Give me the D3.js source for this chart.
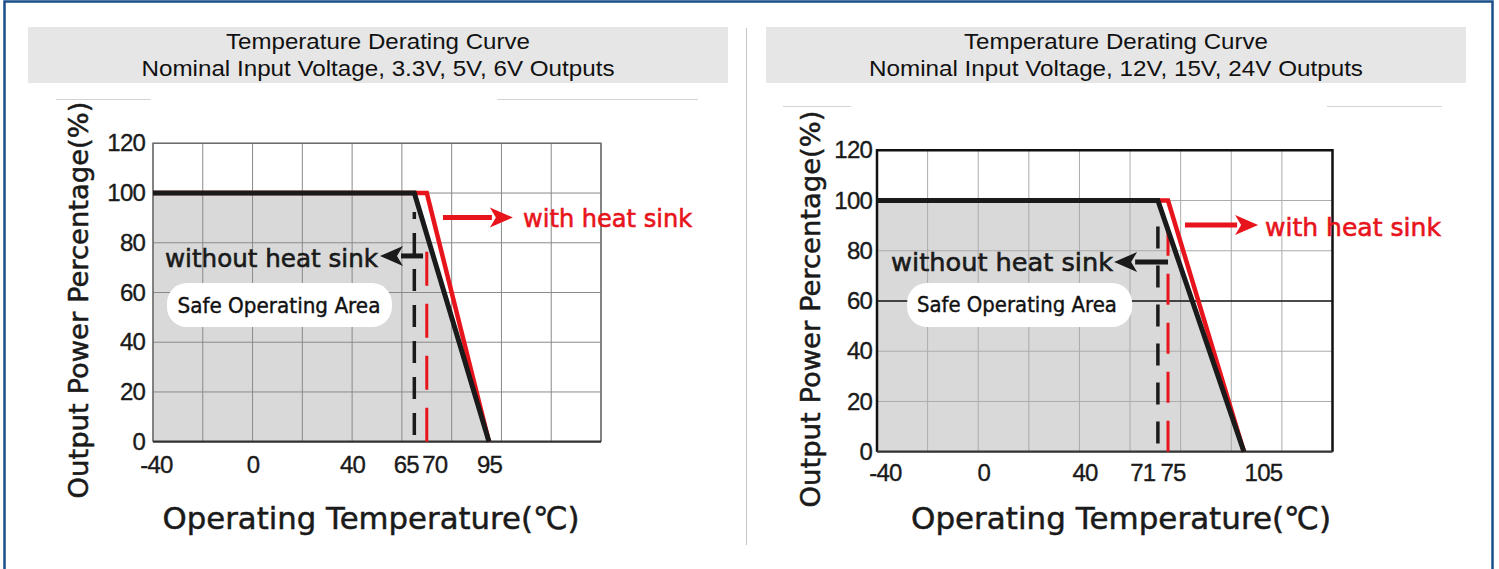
<!DOCTYPE html>
<html>
<head>
<meta charset="utf-8">
<title>Temperature Derating Curve</title>
<script src="https://cdn.jsdelivr.net/npm/d3@7"></script>
<style>
  body { margin: 0; background: #fff; }
  svg { display: block; }
</style>
</head>
<body>
<svg id="chart" width="1499" height="569"></svg>
<script>
// values
var powerTicks = [0, 20, 40, 60, 80, 100, 120];
var gridTemps = [-40, -20, 0, 20, 40, 60, 80, 100, 120, 140];
var curvePower = [100, 100, 0];

var leftTitle = ["Temperature Derating Curve", "Nominal Input Voltage, 3.3V, 5V, 6V Outputs"];
var leftTempTicks = [-40, 0, 40, 65, 70, 95];
var leftNoSinkTemp = [-40, 65, 95];
var leftSinkTemp = [-40, 70, 95];

var rightTitle = ["Temperature Derating Curve", "Nominal Input Voltage, 12V, 15V, 24V Outputs"];
var rightTempTicks = [-40, 0, 40, 71, 75, 105];
var rightNoSinkTemp = [-40, 71, 105];
var rightSinkTemp = [-40, 75, 105];

var yTitle = "Output Power Percentage(%)";
var xTitle = "Operating Temperature(\u2103)";

var RED = "#e8141c";
var INK = "#1a1a1a";
var svg = d3.select("#chart");

// outer frame + divider + scan leftovers
svg.append("rect").attr("x", 4.5).attr("y", 1.5).attr("width", 1488).attr("height", 620)
    .attr("fill", "none").attr("stroke", "#1b4f8a").attr("stroke-width", 2.5);
svg.append("line").attr("x1", 746.5).attr("x2", 746.5).attr("y1", 28).attr("y2", 545)
    .attr("stroke", "#c4c4c4").attr("stroke-width", 1);
[[56, 151, 99.5], [497, 698, 99.5], [783, 851, 106.5], [1327, 1442, 106.5]].forEach(function(s) {
    svg.append("line").attr("x1", s[0]).attr("x2", s[1]).attr("y1", s[2]).attr("y2", s[2])
        .attr("stroke", "#d4d4d4").attr("stroke-width", 1);
});

function arrow(g, xa, xb, yy, color) {
    // xa = tail, xb = tip (pixels)
    var dir = xb > xa ? 1 : -1, len = 23, half = 10;
    g.append("line").attr("x1", xa).attr("x2", xb - dir * (len - 2)).attr("y1", yy).attr("y2", yy)
        .attr("stroke", color).attr("stroke-width", 5);
    g.append("path")
        .attr("d", "M" + xb + "," + yy + "L" + (xb - dir * len) + "," + (yy - half) +
                   "L" + (xb - dir * (len - 6)) + "," + yy + "L" + (xb - dir * len) + "," + (yy + half) + "Z")
        .attr("fill", color);
}

// heavier look of the scanned lettering
function ink(sel, color, w) {
    return sel.attr("fill", color).attr("stroke", color).attr("stroke-width", w);
}

function drawChart(c) {
    var g = svg.append("g");

    // header band
    g.append("rect").attr("x", c.headX).attr("y", 27).attr("width", 700).attr("height", 56).attr("fill", "#e6e6e6");
    c.title.forEach(function(t, i) {
        g.append("text").attr("x", c.headX + 350).attr("y", i ? 76 : 48.5)
            .attr("text-anchor", "middle").attr("font-family", "'Liberation Sans', Arial, sans-serif")
            .attr("font-size", 22).attr("textLength", c.titleLen[i]).attr("lengthAdjust", "spacingAndGlyphs")
            .attr("fill", "#111").text(t);
    });

    var x = d3.scaleLinear().domain([-40, 140]).range([c.x0, c.x1]);
    var y = d3.scaleLinear().domain([0, 120]).range([c.y1, c.y0]);

    var noSink = c.noSink.map(function(t, i) { return [t, curvePower[i]]; });
    var sink = c.sink.map(function(t, i) { return [t, curvePower[i]]; });

    // safe operating area
    g.append("path").datum(noSink)
        .attr("d", d3.area().x(function(d) { return x(d[0]); }).y0(y(0)).y1(function(d) { return y(d[1]); }))
        .attr("fill", "#d9d9d9");

    // grid
    g.selectAll(".vg").data(gridTemps).enter().append("line")
        .attr("x1", x).attr("x2", x).attr("y1", c.y0).attr("y2", c.y1)
        .attr("stroke", c.gridColor).attr("stroke-width", 1);
    g.selectAll(".hg").data(powerTicks).enter().append("line")
        .attr("x1", c.x0).attr("x2", c.x1).attr("y1", y).attr("y2", y)
        .attr("stroke", function(d) { return d === c.darkRow ? "#111" : c.gridColor; })
        .attr("stroke-width", function(d) { return d === c.darkRow ? 1.3 : 1; });

    // box
    g.append("path").attr("d", "M" + c.x0 + "," + c.y1 + "V" + c.y0 + "H" + c.x1 + "V" + c.y1)
        .attr("fill", "none").attr("stroke", c.boxColor).attr("stroke-width", c.boxWidth);
    g.append("line").attr("x1", c.x0).attr("x2", c.x1).attr("y1", c.y1).attr("y2", c.y1)
        .attr("stroke", "#333").attr("stroke-width", 2.2);

    // pill label
    var p = c.pill;
    g.append("rect").attr("x", x(p.t0)).attr("y", y(p.v0)).attr("width", x(p.t1) - x(p.t0))
        .attr("height", y(p.v1) - y(p.v0)).attr("rx", 20).attr("fill", "#fff");
    ink(g.append("text").attr("x", x(p.tc)).attr("y", y(p.vb)).attr("text-anchor", "middle")
        .attr("font-family", "'DejaVu Sans', sans-serif").attr("font-size", 21)
        .attr("textLength", p.len).attr("lengthAdjust", "spacingAndGlyphs")
        .text("Safe Operating Area"), "#111", 0.4);

    // guide dashes at the knee temperatures
    g.append("line").attr("x1", x(c.noSink[1])).attr("x2", x(c.noSink[1]))
        .attr("y1", y(c.blackDash[0])).attr("y2", y(c.blackDash[1]))
        .attr("stroke", INK).attr("stroke-width", 3.5).attr("stroke-dasharray", c.blackDash[2]);
    g.append("line").attr("x1", x(c.sink[1])).attr("x2", x(c.sink[1]))
        .attr("y1", y(c.redDash[0])).attr("y2", y(c.redDash[1]))
        .attr("stroke", RED).attr("stroke-width", 3).attr("stroke-dasharray", c.redDash[2]);

    // derating curves
    var line = d3.line().x(function(d) { return x(d[0]); }).y(function(d) { return y(d[1]); });
    g.append("path").datum(sink).attr("d", line).attr("fill", "none")
        .attr("stroke", RED).attr("stroke-width", 4.5).attr("stroke-linejoin", "miter");
    g.append("path").datum(noSink).attr("d", line).attr("fill", "none")
        .attr("stroke", INK).attr("stroke-width", 5).attr("stroke-linejoin", "miter");

    // axes (labels only); plain hyphen minus like the sheet
    var fmt = function(d) { return String(d); };
    var ya = g.append("g").attr("transform", "translate(" + c.x0 + ",0)")
        .call(d3.axisLeft(y).tickValues(powerTicks).tickFormat(fmt).tickSize(0).tickPadding(c.yPad));
    var xa = g.append("g").attr("transform", "translate(0," + c.y1 + ")")
        .call(d3.axisBottom(x).tickValues(c.ticks).tickFormat(fmt).tickSize(0).tickPadding(c.xPad));
    [ya, xa].forEach(function(a) {
        a.select(".domain").remove();
        ink(a.selectAll("text").attr("font-family", "'Liberation Sans', Arial, sans-serif")
            .attr("font-size", 24).attr("letter-spacing", -0.8), INK, 0.35);
    });
    xa.selectAll("text")
        .attr("text-anchor", function(d) { return (c.nudge[d] || ["middle"])[0]; })
        .attr("dx", function(d) { return (c.nudge[d] || [null, c.xShift])[1]; });

    // annotations
    var r = c.red, b = c.black;
    arrow(g, x(r.t0), x(r.t1), y(r.v), RED);
    arrow(g, x(b.t0), x(b.t1), y(b.v), INK);
    ink(g.append("text").attr("x", x(r.tt)).attr("y", y(r.vb))
        .attr("font-family", "'DejaVu Sans', sans-serif").attr("font-size", 25)
        .attr("textLength", r.len).attr("lengthAdjust", "spacingAndGlyphs")
        .text("with heat sink"), RED, 0.6);
    ink(g.append("text").attr("x", x(b.tt)).attr("y", y(b.vb)).attr("text-anchor", "end")
        .attr("font-family", "'DejaVu Sans', sans-serif").attr("font-size", 25)
        .attr("textLength", b.len).attr("lengthAdjust", "spacingAndGlyphs")
        .text("without heat sink"), INK, 0.6);

    // axis titles
    ink(g.append("text").attr("transform", "translate(" + c.yTitleX + "," + c.yTitleY + ") rotate(-90)")
        .attr("text-anchor", "middle").attr("dominant-baseline", "central")
        .attr("font-family", "'DejaVu Sans', sans-serif").attr("font-size", 26)
        .attr("textLength", 397).attr("lengthAdjust", "spacingAndGlyphs")
        .text(yTitle), INK, 0.5);
    ink(g.append("text").attr("x", c.xTitleX).attr("y", 529)
        .attr("text-anchor", "middle")
        .attr("font-family", "'DejaVu Sans', sans-serif").attr("font-size", 31)
        .attr("textLength", c.xTitleLen).attr("lengthAdjust", "spacingAndGlyphs")
        .text(xTitle), INK, 0.5);
}

drawChart({
    title: leftTitle, titleLen: [304, 473], headX: 28,
    ticks: leftTempTicks, noSink: leftNoSinkTemp, sink: leftSinkTemp,
    x0: 153, x1: 601, y0: 143.3, y1: 441.7,
    gridColor: "#8a8a8a", boxColor: "#6e6e6e", boxWidth: 1.5, darkRow: null,
    yPad: 8, xPad: 14, xShift: 0,
    nudge: { "-40": ["middle", 3], 65: ["end", 4], 70: ["start", -5] },
    blackDash: [2.7, 92.4, "22,14"], redDash: [0, 79.8, "34,18"],
    pill: { t0: -34.4, t1: 56.0, v0: 63.8, v1: 46.1, tc: 10.6, vb: 51.7, len: 203 },
    red: { t0: 76.5, t1: 104.6, v: 90.2, tt: 108.7, vb: 86.4, len: 169 },
    black: { t0: 68.5, t1: 51.2, v: 74.7, tt: 50.4, vb: 70.4, len: 213 },
    yTitleX: 79, yTitleY: 300, xTitleX: 371, xTitleLen: 417
});

drawChart({
    title: rightTitle, titleLen: [304, 494], headX: 766,
    ticks: rightTempTicks, noSink: rightNoSinkTemp, sink: rightSinkTemp,
    x0: 877, x1: 1332.5, y0: 150.3, y1: 451.7,
    gridColor: "#ababab", boxColor: "#111", boxWidth: 2.5, darkRow: 60,
    yPad: 5, xPad: 12, xShift: 5,
    nudge: { "-40": ["middle", 8], 71: ["end", -3], 75: ["start", -8], 105: ["middle", 19] },
    blackDash: [3.3, 95.5, "22,17"], redDash: [0, 89.5, "31,18"],
    pill: { t0: -28.1, t1: 60.8, v0: 67.2, v1: 49.6, tc: 15.3, vb: 55.7, len: 200 },
    red: { t0: 81.7, t1: 110.6, v: 90.3, tt: 113.3, vb: 85.7, len: 176 },
    black: { t0: 75.0, t1: 53.7, v: 75.5, tt: 53.3, vb: 71.9, len: 222 },
    yTitleX: 811, yTitleY: 309, xTitleX: 1121, xTitleLen: 420
});
</script>
</body>
</html>
